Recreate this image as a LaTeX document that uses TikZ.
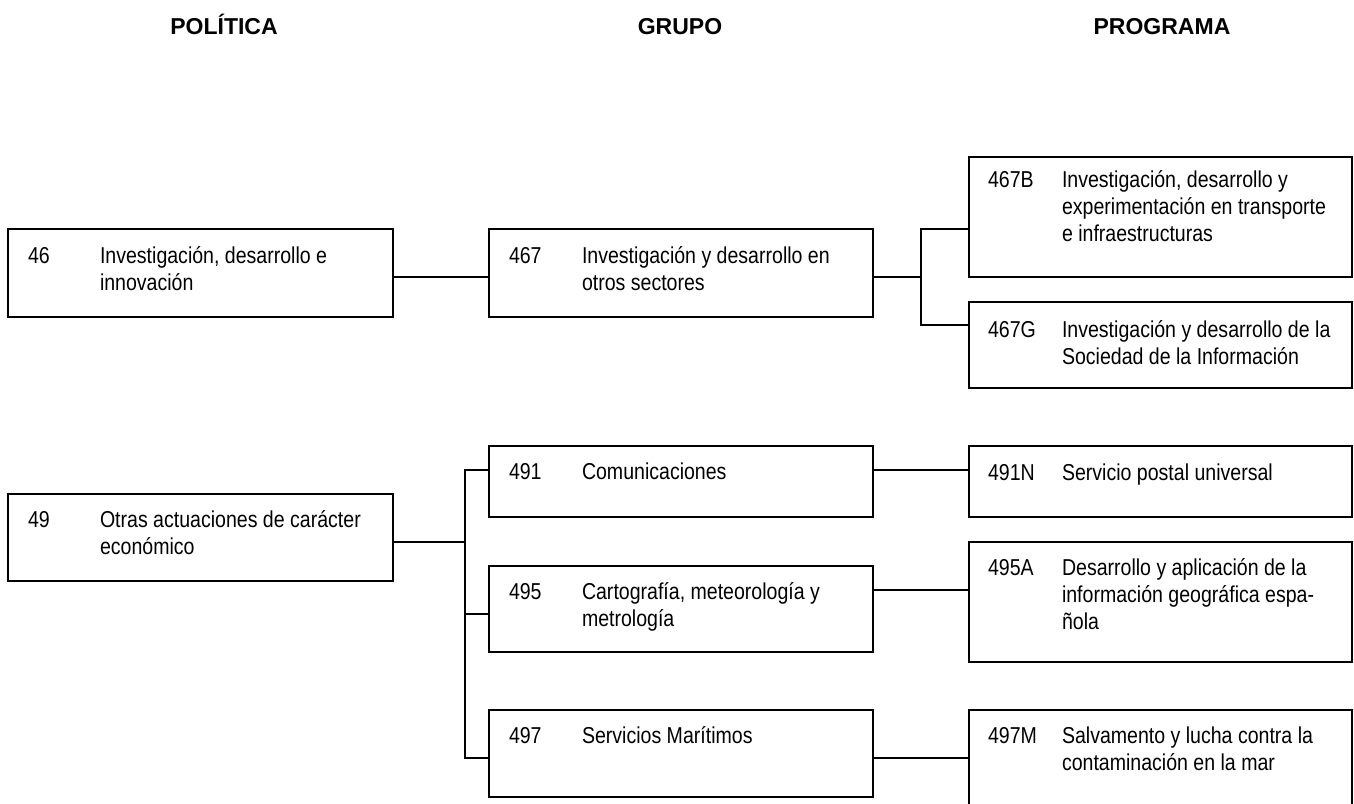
\documentclass[tikz,border=0pt]{standalone}
\usepackage{fontspec}
\setmainfont{Liberation Sans}
\newfontfamily\bodyfont[FakeStretch=0.85]{Liberation Sans}
\tikzset{
  box/.style={draw, line width=1.8pt, anchor=north west, inner sep=0pt, outer sep=0pt},
  txt/.style={anchor=base west, inner sep=0pt, outer sep=0pt, font=\bodyfont\fontsize{23}{27}\selectfont},
  head/.style={anchor=base, inner sep=0pt, font=\bfseries\fontsize{23}{27}\selectfont},
  link/.style={line width=1.8pt}
}
\newcommand{\lines}[1]{\parbox[t]{300pt}{#1}}
\begin{document}
\begin{tikzpicture}[x=1pt,y=-1pt]
\useasboundingbox (0,0) rectangle (1354,803);
% headers
\node[head] (hpol) at (224,34) {POLÍTICA};
\node[head] (hgru) at (680,34) {GRUPO};
\node[head] (hpro) at (1162,34) {PROGRAMA};
% boxes
\node[box, minimum width=385pt, minimum height=88pt] (b46)   at (8,229) {};
\node[box, minimum width=384pt, minimum height=88pt] (b467)  at (489,229) {};
\node[box, minimum width=383pt, minimum height=120pt] (b467B) at (969,157) {};
\node[box, minimum width=383pt, minimum height=86pt] (b467G) at (969,302) {};
\node[box, minimum width=385pt, minimum height=87pt] (b49)   at (8,494) {};
\node[box, minimum width=384pt, minimum height=71pt] (b491)  at (489,446) {};
\node[box, minimum width=384pt, minimum height=86pt] (b495)  at (489,566) {};
\node[box, minimum width=384pt, minimum height=87pt] (b497)  at (489,710) {};
\node[box, minimum width=383pt, minimum height=71pt] (b491N) at (969,446) {};
\node[box, minimum width=383pt, minimum height=120pt] (b495A) at (969,542) {};
\node[box, minimum width=383pt, minimum height=120pt] (b497M) at (969,710) {};
% texts
\node[txt] (n46) at (28,263) {46};
\node[txt] (d46) at (100,263) {\lines{Investigación, desarrollo e\\innovación}};
\node[txt] (n467) at (509,263) {467};
\node[txt] (d467) at (582,263) {\lines{Investigación y desarrollo en\\otros sectores}};
\node[txt] (n467B) at (988,187) {467B};
\node[txt] (d467B) at (1062,187) {\lines{Investigación, desarrollo y\\experimentación en transporte\\e infraestructuras}};
\node[txt] (n467G) at (988,337) {467G};
\node[txt] (d467G) at (1062,337) {\lines{Investigación y desarrollo de la\\Sociedad de la Información}};
\node[txt] (n49) at (28,527) {49};
\node[txt] (d49) at (100,527) {\lines{Otras actuaciones de carácter\\económico}};
\node[txt] (n491) at (509,479) {491};
\node[txt] (d491) at (582,479) {Comunicaciones};
\node[txt] (n495) at (509,599) {495};
\node[txt] (d495) at (582,599) {\lines{Cartografía, meteorología y\\metrología}};
\node[txt] (n497) at (509,743) {497};
\node[txt] (d497) at (582,743) {Servicios Marítimos};
\node[txt] (n491N) at (988,480) {491N};
\node[txt] (d491N) at (1062,480) {Servicio postal universal};
\node[txt] (n495A) at (988,575) {495A};
\node[txt] (d495A) at (1062,575) {\lines{Desarrollo y aplicación de la\\información geográfica espa-\\ñola}};
\node[txt] (n497M) at (988,743) {497M};
\node[txt] (d497M) at (1062,743) {\lines{Salvamento y lucha contra la\\contaminación en la mar}};
% junction coordinates
\coordinate (ja) at (441,277);
\coordinate (j1) at (921,277);
\coordinate (j1a) at (921,229);
\coordinate (j1b) at (921,325);
\coordinate (j2) at (465,542);
\coordinate (j2a) at (465,470);
\coordinate (j2b) at (465,614);
\coordinate (j2c) at (465,758);
\coordinate (r1) at (921,470);
\coordinate (r2) at (921,590);
\coordinate (r3) at (921,758);
% connectors
\draw[link] (b46.east |- ja) -- (b467.west |- ja);
\draw[link] (b467.east |- j1) -- (j1);
\draw[link] (b467B.west |- j1a) -- (j1a) -- (j1b) -- (b467G.west |- j1b);
\draw[link] (b49.east |- j2) -- (j2);
\draw[link] (b491.west |- j2a) -- (j2a) -- (j2c) -- (b497.west |- j2c);
\draw[link] (j2b) -- (b495.west |- j2b);
\draw[link] (b491.east |- r1) -- (b491N.west |- r1);
\draw[link] (b495.east |- r2) -- (b495A.west |- r2);
\draw[link] (b497.east |- r3) -- (b497M.west |- r3);
\end{tikzpicture}
\end{document}
